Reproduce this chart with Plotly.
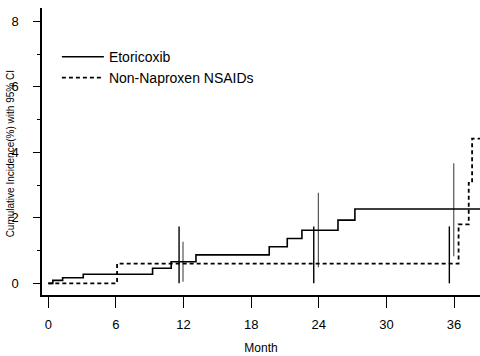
import plotly.graph_objects as go

# Etoricoxib cumulative incidence (%), step curve
eto_month = [0, 0.4, 1.27, 3.1, 9.25, 10.9, 13.1, 19.6, 21.2, 22.5, 25.7, 27.2, 38.5]
eto_value = [0, 0.09, 0.17, 0.28, 0.46, 0.66, 0.87, 1.12, 1.37, 1.62, 1.93, 2.27, 2.27]

# Non-Naproxen NSAIDs cumulative incidence (%), step curve
nsaid_month = [0, 6.1, 36.4, 37.3, 37.6, 38.5]
nsaid_value = [0, 0.6, 1.8, 3.07, 4.42, 4.42]

# 95% CI bars
eto_ci_month = [11.95, 23.96, 35.97]
eto_ci_low = [0.05, 0.49, 0.83]
eto_ci_high = [1.27, 2.77, 3.67]

nsaid_ci_month = [11.6, 23.55, 35.58]
nsaid_ci_low = [0, 0, 0]
nsaid_ci_high = [1.74, 1.74, 1.74]

x_ticks = [0, 6, 12, 18, 24, 30, 36]
y_ticks = [0, 2, 4, 6, 8]


def ci_xy(months, lows, highs):
    xs, ys = [], []
    for m, lo, hi in zip(months, lows, highs):
        xs += [m, m, None]
        ys += [lo, hi, None]
    return xs, ys


FONT = "Liberation Sans, Arial, sans-serif"

fig = go.Figure()

ex, ey = ci_xy(eto_ci_month, eto_ci_low, eto_ci_high)
fig.add_trace(go.Scatter(x=ex, y=ey, mode="lines", showlegend=False,
                         line=dict(color="#555555", width=1.2), hoverinfo="skip"))
nx, ny = ci_xy(nsaid_ci_month, nsaid_ci_low, nsaid_ci_high)
fig.add_trace(go.Scatter(x=nx, y=ny, mode="lines", showlegend=False,
                         line=dict(color="black", width=1.4), hoverinfo="skip"))

fig.add_trace(go.Scatter(x=eto_month, y=eto_value, mode="lines", name="Etoricoxib",
                         legend="legend",
                         line=dict(color="black", width=1.6, shape="hv")))
fig.add_trace(go.Scatter(x=nsaid_month, y=nsaid_value, mode="lines",
                         name="Non-Naproxen NSAIDs", legend="legend2",
                         line=dict(color="black", width=1.8, shape="hv", dash="4px,3px")))

leg_common = dict(xanchor="left", yanchor="middle",
                  font=dict(size=14, family=FONT), bgcolor="rgba(0,0,0,0)",
                  itemwidth=42)

fig.update_layout(
    width=480, height=356,
    margin=dict(l=42, r=0, t=8, b=61, autoexpand=False),
    paper_bgcolor="white", plot_bgcolor="white",
    font=dict(family=FONT, color="black", size=13),
    legend=dict(x=0.034, y=0.829, **leg_common),
    legend2=dict(x=0.034, y=0.756, **leg_common),
    xaxis=dict(range=[-0.56, 38.3], tickvals=x_ticks, ticktext=[str(v) for v in x_ticks],
               showgrid=False, zeroline=False, showline=True, linecolor="black",
               linewidth=1.5, ticks="outside", ticklen=11, tickwidth=1.3,
               tickcolor="black", ticklabelstandoff=6, automargin=False,
               tickfont=dict(size=13),
               title=dict(text="Month", font=dict(size=12), standoff=12)),
    yaxis=dict(range=[-0.356, 8.41], tickvals=y_ticks, ticktext=[str(v) for v in y_ticks],
               showgrid=False, zeroline=False, showline=True, linecolor="black",
               linewidth=1.5, ticks="outside", ticklen=7, tickwidth=1.3,
               tickcolor="black", tickfont=dict(size=13), ticklabelstandoff=12,
               automargin=False,
               minor=dict(dtick=1, tick0=1, ticks="outside", ticklen=3,
                          tickcolor="black", tickwidth=1.3)),
    annotations=[dict(text="Cumulative Incidence(%) with 95% CI", textangle=-90,
                      xref="paper", yref="paper", x=0, y=0.49, xshift=-32,
                      xanchor="center", yanchor="middle", showarrow=False,
                      font=dict(size=10, family=FONT, color="black"))],
)

fig.write_html("out.html")
